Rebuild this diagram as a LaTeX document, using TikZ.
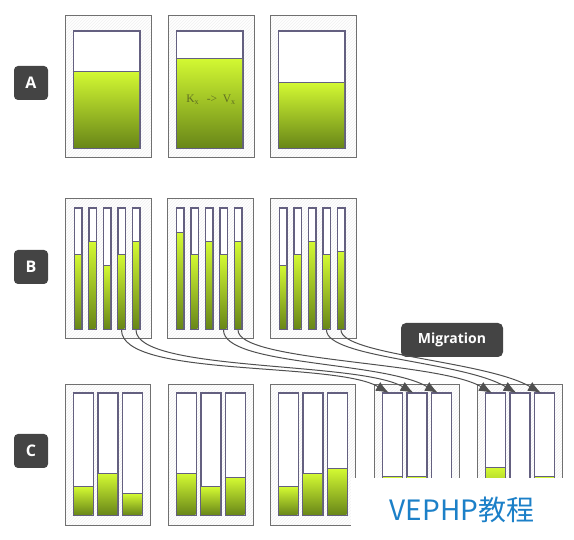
\documentclass[tikz,border=0pt]{standalone}
\usepackage{fontspec}
\setmainfont{Open Sans}
\newfontfamily\kvfont{Liberation Serif}
\newfontfamily\cjkfont{Noto Sans CJK SC}
\usetikzlibrary{arrows.meta,patterns}

\definecolor{frame}{RGB}{112,112,112}
\definecolor{barline}{RGB}{100,96,128}
\definecolor{limetop}{RGB}{210,248,50}
\definecolor{limebot}{RGB}{104,134,24}
\definecolor{tagfill}{RGB}{68,68,68}
\definecolor{wire}{RGB}{80,80,80}
\definecolor{kvcol}{RGB}{95,110,35}
\definecolor{wmblue}{RGB}{28,128,200}

% one bar: name, left, top, right, bottom, level
\newcommand\tank[6]{%
  \node[cell, anchor=north west, minimum width={(#4)-(#2)}, minimum height={(#3)-(#5)}] (#1) at (#2,#3) {};
  \shade[liquid] (#2,#6) rectangle (#4,#5);
  \draw[barline, line width=1pt] (#2,#6) -- (#4,#6);
  \draw[barline, line width=1pt] (#1.north west) rectangle (#1.south east);
}

\begin{document}
\begin{tikzpicture}[x=1pt,y=1pt,
    server/.style={draw=frame, line width=1.1pt, inner sep=0pt, anchor=north west,
      preaction={fill=white}, pattern=north east lines, pattern color=black!6},
    cell/.style={draw=barline, line width=1pt, fill=white, inner sep=0pt},
    liquid/.style={top color=limetop, bottom color=limebot},
    tag/.style={fill=tagfill, rounded corners=4pt, text=white, inner sep=0pt,
      font=\bfseries\fontsize{16}{16}\selectfont, minimum width=34pt, minimum height=34pt},
    migrate/.style={draw=wire, line width=1pt, -{Latex[length=13pt,width=10pt]}}]
    \useasboundingbox (0,0) rectangle (574,-540);

    % Row labels
    \node[tag] (tagA) at (31,-83) {A};
    \node[tag] (tagB) at (31,-267) {B};
    \node[tag] (tagC) at (31,-451) {C};

    % Row A: one big bar per server
    \foreach \s/\L/\h in {1/65/72, 2/168/59, 3/270/83} {
        \node[server, minimum width=86pt, minimum height=142pt] (a\s) at (\L,-15) {};
        \tank{a\s-1}{\L+8}{-31}{\L+74}{-148}{-\h}
    }
    \node[text=kvcol, font=\kvfont\fontsize{11.5}{11.5}\selectfont] (kv) at (211,-100)
        {K\textsubscript{x}\enspace\,-{}>\enspace V\textsubscript{x}};

    % Row B: five thin bars per server
    \foreach \s/\L/\levels in {1/65/{255,242,266,255,242}, 2/167/{233,255,242,255,242},
                               3/270/{266,255,242,255,252}} {
        \node[server, minimum width=86pt, minimum height=140pt] (b\s) at (\L,-198) {};
        \foreach \h [count=\i] in \levels {
            \pgfmathsetmacro\xl{\L+9+14.5*(\i-1)}
            \tank{b\s-\i}{\xl}{-208}{\xl+7}{-329}{-\h}
        }
    }

    % Row C: three wide bars per server
    \foreach \s/\L/\levels in {1/65/{487,474,494}, 2/168/{474,487,478}, 3/270/{487,474,469},
                               4/374/{477,477,515}, 5/477/{468,515,477}} {
        \node[server, minimum width=85pt, minimum height=141pt] (c\s) at (\L,-384) {};
        \foreach \h [count=\i] in \levels {
            \pgfmathsetmacro\xl{\L+8+24.5*(\i-1)}
            \tank{c\s-\i}{\xl}{-393}{\xl+19.5}{-515}{-\h}
        }
    }

    % Migration
    \node[tag, minimum width=102pt, rounded corners=5pt,
          font=\bfseries\fontsize{14}{14}\selectfont] (mig) at (452,-340) {Migration};
    \draw[migrate] (b1-4.south) .. controls +(0,-48) and +(-55,32) .. ([xshift=7pt]c4-1.north west);
    \draw[migrate] (b1-5.south) .. controls +(0,-42) and +(-55,32) .. ([xshift=7pt]c4-2.north west);
    \draw[migrate] (b2-4.south) .. controls +(0,-36) and +(-55,32) .. ([xshift=7pt]c4-3.north west);
    \draw[migrate] (b2-5.south) .. controls +(0,-32) and +(-55,32) .. ([xshift=7pt]c5-1.north west);
    \draw[migrate] (b3-4.south) .. controls +(0,-28) and +(-55,32) .. ([xshift=7pt]c5-2.north west);
    \draw[migrate] (b3-5.south) .. controls +(0,-25) and +(-55,32) .. ([xshift=7pt]c5-3.north west);

    % Watermark
    \fill[white] (351,-478) rectangle (574,-540);
    \node[text=wmblue, font=\cjkfont\fontsize{28}{28}\selectfont] (wm) at (462,-510) {VEPHP教程};
\end{tikzpicture}
\end{document}
